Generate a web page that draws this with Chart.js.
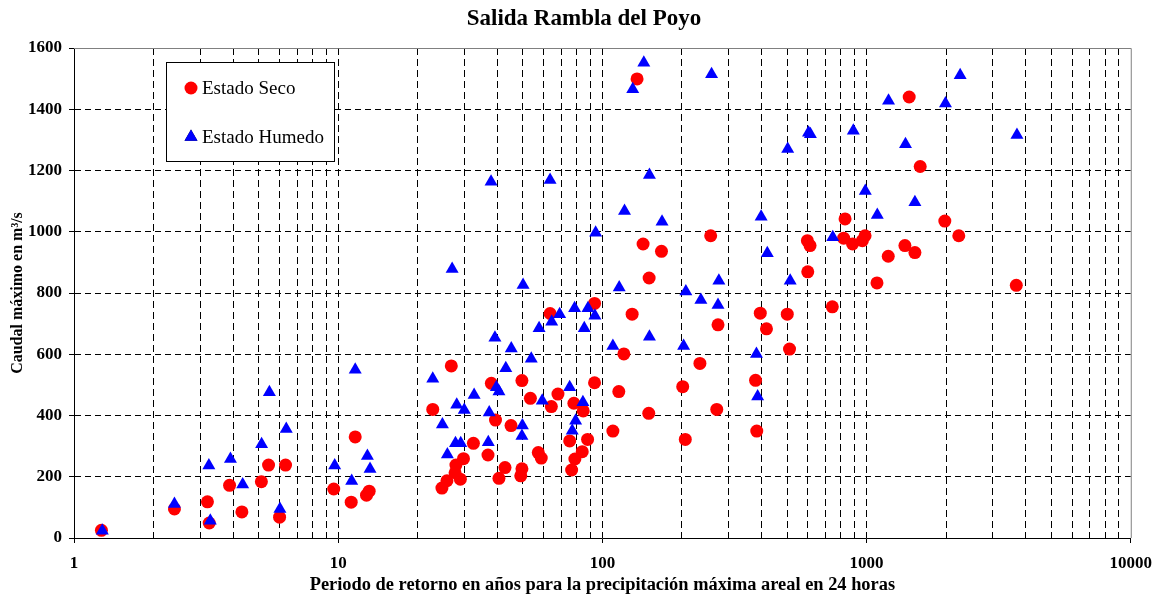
<!DOCTYPE html>
<html>
<head>
<meta charset="utf-8">
<title>Salida Rambla del Poyo</title>
<script src="https://cdn.jsdelivr.net/npm/chart.js@4.4.1/dist/chart.umd.min.js"></script>
<style>
  body { margin: 0; background: #fff; }
  canvas { display: block; }
</style>
</head>
<body>
<canvas id="poyoChart" width="1162" height="598"></canvas>
<script>
// Estado Seco (red circles)
const secoX = [1.27, 2.4, 3.2, 3.25, 3.88, 4.32, 5.12, 5.45, 6.32, 6.0, 9.62, 11.2, 11.6, 12.8, 13.1,
  22.8, 26.8, 32.5, 24.7, 25.8, 27.7, 27.9, 29.0, 29.8, 38.0, 36.9, 39.4, 40.6, 42.8, 45.1,
  49.6, 49.1, 49.6, 53.4, 57.2, 58.7, 63.4, 64.1, 67.9, 75.2, 76.5, 78.0, 78.7, 83.9, 84.6,
  87.9, 93.4, 93.4, 109.6, 115.4, 120.6, 129.6, 135.3, 142.6, 167.4, 150.3, 257, 274, 396, 418,
  501, 149.8, 201.4, 206, 234, 271, 511, 380, 384, 1450, 1596, 829, 1978, 2234, 597,
  611, 819, 885, 964, 987, 1208, 1397, 1524, 599, 1095, 742, 3688];
const secoY = [25, 95, 118, 49, 172, 85, 184, 238, 238, 68, 160, 117, 330, 140, 153,
  420, 562, 309, 163, 187, 213, 238, 192, 259, 505, 271, 385, 195, 230, 367,
  514, 203, 226, 456, 279, 261, 733, 429, 470, 317, 222, 440, 258, 282, 415,
  322, 766, 507, 349, 478, 601, 731, 1499, 960, 936, 849, 987, 696, 734, 683,
  731, 407, 494, 322, 570, 420, 617, 515, 349, 1440, 1213, 1042, 1035, 987, 971,
  955, 979, 960, 971, 987, 920, 955, 932, 869, 833, 755, 825];

// Estado Humedo (blue triangles)
const humedoX = [1.28, 2.4, 3.28, 3.24, 3.91, 4.35, 5.13, 5.49, 6.36, 6.02, 9.7, 11.25, 11.6, 12.9, 13.2,
  22.8, 24.8, 25.9, 27.8, 29.1, 28.1, 30.0, 32.7, 27.0, 37.9, 63.4, 50.1, 115.8, 39.2, 45.2,
  43.1, 53.8, 57.6, 64.3, 68.9, 78.5, 88.2, 93.7, 85.4, 109.6, 39.7, 40.6, 37.3, 59.2, 75.2,
  84.4, 79.2, 76.9, 49.8, 49.6, 37.0, 143.5, 130.3, 259, 503, 150.7, 121.3, 168.2, 399, 94.3,
  421, 276, 514, 207, 236, 274, 150.7, 203, 383, 387, 2261, 1211, 1989, 603, 613,
  891, 1404, 3709, 989, 1524, 1098, 745];
const humedoY = [24, 111, 56, 237, 258, 175, 306, 476, 356, 95, 237, 186, 549, 268, 225,
  520, 371, 273, 309, 309, 435, 418, 467, 878, 1163, 1169, 826, 818, 654, 619,
  554, 585, 685, 706, 731, 750, 750, 726, 685, 627, 492, 478, 410, 448, 492,
  443, 383, 350, 367, 333, 313, 1552, 1465, 1514, 1270, 1185, 1068, 1033, 1049, 997,
  930, 840, 840, 805, 777, 761, 657, 627, 601, 462, 1511, 1428, 1419, 1323, 1318,
  1330, 1286, 1316, 1133, 1096, 1055, 982];

const decades = [1, 10, 100, 1000];
const xMin = 1, xMax = 10000;
const yMin = 0, yMax = 1600, yStep = 200;
const chartTitle = 'Salida Rambla del Poyo';

const serif = "'Liberation Serif', 'Times New Roman', serif";
Chart.defaults.color = '#000';
Chart.defaults.font.family = serif;

function isMajor(v) {
  const l = Math.log10(v);
  return Math.abs(l - Math.round(l)) < 1e-9;
}

const toPoints = (xs, ys) => xs.map((x, i) => ({ x: x, y: ys[i] }));

// title centred on the whole canvas + grey top / right frame of the plot area
const framePlugin = {
  id: 'frame',
  afterDraw(chart) {
    const { ctx, chartArea: a } = chart;
    ctx.save();
    ctx.strokeStyle = '#808080';
    ctx.lineWidth = 1;
    ctx.beginPath();
    ctx.moveTo(a.left, a.top + 0.5);
    ctx.lineTo(a.right + 0.5, a.top + 0.5);
    ctx.lineTo(a.right + 0.5, a.bottom);
    ctx.stroke();

    ctx.fillStyle = '#000';
    ctx.font = 'bold 23px ' + serif;
    ctx.textAlign = 'center';
    ctx.textBaseline = 'middle';
    ctx.fillText(chartTitle, chart.width / 2 + 3, 19);
    ctx.restore();
  }
};

// boxed legend inside the plot
const boxLegend = {
  id: 'boxLegend',
  afterDraw(chart) {
    const ctx = chart.ctx;
    const x = 166, y = 62, w = 168, h = 99;
    ctx.save();
    ctx.fillStyle = '#fff';
    ctx.fillRect(x, y, w, h);
    ctx.strokeStyle = '#000';
    ctx.lineWidth = 1;
    ctx.strokeRect(x + 0.5, y + 0.5, w, h);
    ctx.font = '19px ' + serif;
    ctx.textBaseline = 'middle';
    chart.data.datasets.forEach((ds, i) => {
      const cy = i === 0 ? 88 : 137;
      Chart.helpers.drawPoint(ctx, {
        pointStyle: ds.pointStyle,
        radius: ds.pointRadius,
        borderWidth: 0
      }, 191, cy);
      ctx.fillStyle = ds.backgroundColor;
      ctx.fill();
      ctx.fillStyle = '#000';
      ctx.fillText(ds.label, 202, cy + 1);
    });
    ctx.restore();
  }
};

new Chart(document.getElementById('poyoChart'), {
  type: 'scatter',
  data: {
    datasets: [
      {
        label: 'Estado Seco',
        data: toPoints(secoX, secoY),
        pointStyle: 'circle',
        pointRadius: 6.5,
        pointHoverRadius: 6.5,
        borderWidth: 0,
        backgroundColor: '#FF0000',
        borderColor: '#FF0000',
        order: 1,
        clip: false
      },
      {
        label: 'Estado Humedo',
        data: toPoints(humedoX, humedoY),
        pointStyle: 'triangle',
        pointRadius: 7.5,
        pointHoverRadius: 7.5,
        borderWidth: 0,
        backgroundColor: '#0000FF',
        borderColor: '#0000FF',
        order: 0,
        clip: false
      }
    ]
  },
  options: {
    responsive: false,
    animation: false,
    devicePixelRatio: 1,
    layout: { padding: { left: 0, right: 29, top: 48, bottom: 0 } },
    plugins: {
      legend: { display: false },
      tooltip: { enabled: false },
      title: { display: false }
    },
    scales: {
      x: {
        type: 'logarithmic',
        min: xMin,
        max: xMax,
        afterBuildTicks(scale) {
          const t = [];
          decades.forEach(d => { for (let k = 1; k < 10; k++) t.push({ value: d * k }); });
          t.push({ value: xMax });
          scale.ticks = t;
        },
        afterFit(scale) { scale.height = 60; },
        ticks: {
          autoSkip: false,
          maxRotation: 0,
          padding: 10,
          color: '#000',
          font: { family: serif, size: 17, weight: 'bold' },
          callback: v => (isMajor(v) ? String(v) : '')
        },
        grid: {
          color: c => (c.tick && (c.tick.value === xMin || c.tick.value === xMax) ? 'rgba(0,0,0,0)' : '#000'),
          lineWidth: 1,
          tickLength: 5,
          tickColor: c => (c.tick && isMajor(c.tick.value) ? '#000' : 'rgba(0,0,0,0)')
        },
        border: { color: '#000', width: 1, dash: [7, 4] },
        title: {
          display: true,
          text: 'Periodo de retorno en años para la precipitación máxima areal en 24 horas',
          color: '#000',
          font: { family: serif, size: 18.4, weight: 'bold' },
          padding: { top: 0, bottom: 2 }
        }
      },
      y: {
        min: yMin,
        max: yMax,
        afterFit(scale) { scale.width = 74; },
        ticks: {
          stepSize: yStep,
          padding: 7,
          color: '#000',
          font: { family: serif, size: 17, weight: 'bold' },
          callback: v => String(v)
        },
        grid: {
          color: c => (c.tick && (c.tick.value === yMin || c.tick.value === yMax) ? 'rgba(0,0,0,0)' : '#000'),
          lineWidth: 1,
          tickLength: 5,
          tickColor: '#000'
        },
        border: { color: '#000', width: 1, dash: [6, 4] },
        title: {
          display: true,
          text: 'Caudal máximo en m³/s',
          color: '#000',
          font: { family: serif, size: 16, weight: 'bold' },
          padding: { top: 8, bottom: 0 }
        }
      }
    }
  },
  plugins: [framePlugin, boxLegend]
});
</script>
</body>
</html>
